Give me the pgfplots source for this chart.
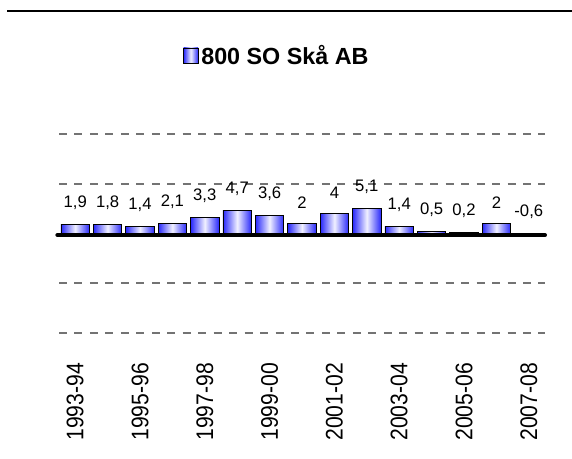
\documentclass[border=0pt]{standalone}
\usepackage{pgfplots}
\pgfplotsset{compat=1.18}
\usepackage{fontspec}
\setmainfont{Liberation Sans}
\definecolor{barblue}{RGB}{40,40,250}
\definecolor{barwhite}{RGB}{240,240,255}
\pgfplotsset{
  mybar/.style={ybar, bar width=0.88, bar shift=0pt, draw=black, line width=0.6pt,
    left color=barblue, right color=barblue, middle color=barwhite},
}
\begin{document}
\begin{tikzpicture}
\useasboundingbox (0,0) rectangle (429pt,343.5pt);
\draw[line width=1.1pt] (5.25pt,335.25pt) -- (429pt,335.25pt);
\begin{axis}[
    at={(44.25pt,93.75pt)}, anchor=south west,
    scale only axis,
    width=364.5pt, height=149.25pt,
    xmin=-0.5, xmax=14.5,
    ymin=-20, ymax=20,
    axis line style={draw=none},
    ytick={-20,-10,10,20},
    yticklabels={},
    ymajorgrids=true,
    grid style={draw=gray!90!black, line width=1.2pt, dash pattern=on 6pt off 5.6pt},
    xtick={0,2,4,6,8,10,12,14},
    xticklabels={1993-94,1995-96,1997-98,1999-00,2001-02,2003-04,2005-06,2007-08},
    xticklabel style={rotate=90, anchor=east, font=\fontsize{18}{18}\selectfont, xscale=0.88, xshift=-1pt},
    xticklabel shift=18.5pt,
    tick style={draw=none},
    clip=false,
    legend style={at={(0.449,1.392)}, anchor=center, draw=none, fill=none,
        font=\bfseries\fontsize{17.5}{19}\selectfont},
    legend image code/.code={\draw[#1] (0pt,-5.5pt) rectangle (11pt,6pt);},
]
\addplot[mybar] coordinates {(0,1.9)};
\addlegendentry{800 SO Skå AB}
\addplot[mybar, forget plot] coordinates {(1,1.8)};
\addplot[mybar, forget plot] coordinates {(2,1.4)};
\addplot[mybar, forget plot] coordinates {(3,2.1)};
\addplot[mybar, forget plot] coordinates {(4,3.3)};
\addplot[mybar, forget plot] coordinates {(5,4.7)};
\addplot[mybar, forget plot] coordinates {(6,3.6)};
\addplot[mybar, forget plot] coordinates {(7,2)};
\addplot[mybar, forget plot] coordinates {(8,4)};
\addplot[mybar, forget plot] coordinates {(9,5.1)};
\addplot[mybar, forget plot] coordinates {(10,1.4)};
\addplot[mybar, forget plot] coordinates {(11,0.5)};
\addplot[mybar, forget plot] coordinates {(12,0.2)};
\addplot[mybar, forget plot] coordinates {(13,2)};
\addplot[mybar, forget plot] coordinates {(14,-0.6)};
\addplot[only marks, mark=none, forget plot,
    nodes near coords, point meta=explicit symbolic,
    every node near coord/.append style={font=\fontsize{12.5}{12}\selectfont, anchor=south, yshift=7.5pt}]
coordinates {
  (0,1.9)[1,9] (1,1.8)[1,8] (2,1.4)[1,4] (3,2.1)[2,1] (4,3.3)[3,3]
  (5,4.7)[4,7] (6,3.6)[3,6] (7,2)[2] (8,4)[4] (9,5.1)[5,1]
  (10,1.4)[1,4] (11,0.5)[0,5] (12,0.2)[0,2] (13,2)[2] (14,0)[-0,6]
};
\draw[line width=3pt, line cap=round, yshift=-1.2pt] (axis cs:-0.55,0) -- (axis cs:14.5,0);
\end{axis}
\end{tikzpicture}
\end{document}
